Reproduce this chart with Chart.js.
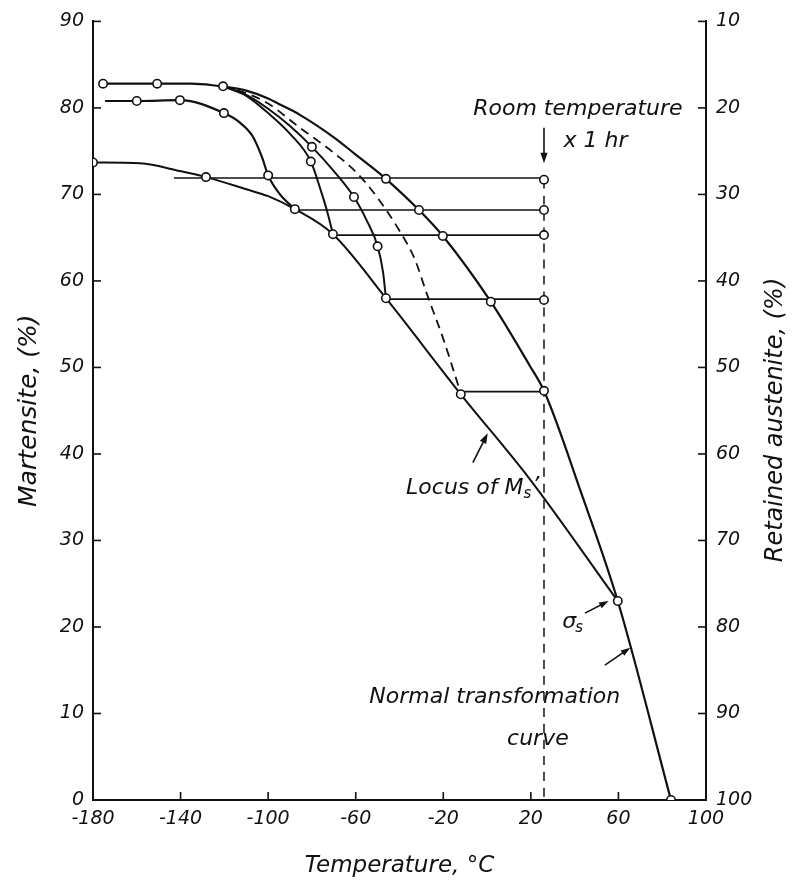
<!DOCTYPE html>
<html><head><meta charset="utf-8">
<script src="https://cdn.jsdelivr.net/npm/chart.js@4.4.1/dist/chart.umd.min.js"></script>
<style>html,body{margin:0;padding:0;background:#fff;}canvas{display:block;}</style>
</head><body>
<canvas id="c" width="798" height="886"></canvas>
<script>
// ---------- data ----------
const xTickValues = [-180, -140, -100, -60, -20, 20, 60, 100];
const yTickValues = [0, 10, 20, 30, 40, 50, 60, 70, 80, 90];
const rightTickValues = [10, 20, 30, 40, 50, 60, 70, 80, 90, 100];

const roomTemp = 26;

const topX = [-175.4, -150.7, -135, -120.6];
const topY = [82.8, 82.8, 82.8, 82.5];

const curve81X = [-174.5, -160, -140.3, -120.2, -112.9, -107, -102.8, -100, -94.6, -87.8];
const curve81Y = [80.8, 80.8, 80.9, 79.4, 78.3, 76.7, 74.3, 72.2, 70.0, 68.3];

const curveAX = [-120.6, -110, -100, -90, -80.5, -76, -73, -70.4];
const curveAY = [82.5, 81.4, 79.4, 77.0, 73.8, 70.5, 68.0, 65.4];

const curveBX = [-120.6, -110, -100, -90, -80, -70, -60.8, -55, -50, -47.5, -46.2];
const curveBY = [82.5, 81.5, 79.9, 77.9, 75.5, 72.7, 69.7, 67.0, 64.0, 61.0, 58.0];

const dashedX = [-120.6, -110, -100, -85.5, -70, -59.5, -50, -40, -33, -27.5, -20, -12];
const dashedY = [82.5, 81.7, 80.5, 77.7, 74.8, 72.5, 69.6, 65.8, 62.5, 58.5, 53.3, 47.0];

const normalX = [-120.6, -110, -100, -94.6, -85.5, -70, -60, -49, -46.2, -31.1, -20.2, 1.7, 19.5, 26, 43, 59.7, 84];
const normalY = [82.5, 82.0, 81.1, 80.4, 79.2, 76.6, 74.6, 72.4, 71.8, 68.2, 65.2, 57.6, 50.2, 47.3, 35.5, 23.0, 0];

const locusX = [-180, -158.5, -140.3, -128.4, -110, -100, -87.8, -70.4, -46.2, -12, 19.5, 59.7];
const locusY = [73.7, 73.6, 72.7, 72.0, 70.6, 69.8, 68.3, 65.4, 58.0, 46.9, 37.1, 23.0];

const isoStartX = [-143, -87.8, -70.4, -46.2, -12];
const isoY = [71.9, 68.2, 65.3, 57.9, 47.2];

const markerX = [-175.4, -150.7, -120.6, -160, -140.3, -120.2, -180, -128.4, -87.8, -70.4, -46.2, -12,
                 -100, -80.5, -80, -60.8, -50, -46.2, -31.1, -20.2, 1.7, 59.7, 84,
                 26, 26, 26, 26, 26];
const markerY = [82.8, 82.8, 82.5, 80.8, 80.9, 79.4, 73.7, 72.0, 68.3, 65.4, 58.0, 46.9,
                 72.2, 73.8, 75.5, 69.7, 64.0, 71.8, 68.2, 65.2, 57.6, 23.0, 0,
                 71.7, 68.2, 65.3, 57.8, 47.3];

// ---------- helpers ----------
const pts = (xs, ys) => xs.map((x, i) => ({x: x, y: ys[i]}));
const INK = '#111';
const FONT = "'DejaVu Sans', sans-serif";

function curve(xs, ys, w, dash) {
  return {type: 'scatter', data: pts(xs, ys), showLine: true, borderColor: INK, borderWidth: w,
          borderDash: dash || [], pointRadius: 0, pointHoverRadius: 0, tension: 0.4,
          cubicInterpolationMode: 'monotone', fill: false};
}

const datasets = [];
datasets.push({type: 'scatter', data: pts(markerX, markerY), showLine: false, pointRadius: 4.2,
  pointBackgroundColor: '#fff', pointBorderColor: INK, pointBorderWidth: 1.6, pointHoverRadius: 4.2});
datasets.push(curve(topX, topY, 2.2));
datasets.push(curve(curve81X, curve81Y, 2.2));
datasets.push(curve(curveAX, curveAY, 2.0));
datasets.push(curve(curveBX, curveBY, 2.0));
datasets.push(curve(dashedX, dashedY, 1.8, [9, 6]));
datasets.push(curve(normalX, normalY, 2.2));
datasets.push(curve(locusX, locusY, 2.0));
isoStartX.forEach((x0, i) => {
  datasets.push(curve([x0, roomTemp], [isoY[i], isoY[i]], 1.7));
});
datasets.push(curve([roomTemp, roomTemp], [71.7, 0], 1.5, [9, 7]));

// ---------- annotation plugin ----------
function arrow(ctx, x1, y1, x2, y2, head) {
  const a = Math.atan2(y2 - y1, x2 - x1);
  ctx.beginPath(); ctx.moveTo(x1, y1); ctx.lineTo(x2 - Math.cos(a) * head * 0.6, y2 - Math.sin(a) * head * 0.6); ctx.stroke();
  ctx.beginPath();
  ctx.moveTo(x2, y2);
  ctx.lineTo(x2 - head * Math.cos(a - 0.33), y2 - head * Math.sin(a - 0.33));
  ctx.lineTo(x2 - head * Math.cos(a + 0.33), y2 - head * Math.sin(a + 0.33));
  ctx.closePath(); ctx.fill();
}

const deco = {
  id: 'deco',
  beforeDraw(chart) {
    const ctx = chart.ctx;
    ctx.save(); ctx.fillStyle = '#fff'; ctx.fillRect(0, 0, chart.width, chart.height); ctx.restore();
  },
  afterDraw(chart) {
    const ctx = chart.ctx, xs = chart.scales.x, ys = chart.scales.y, y2 = chart.scales.y2;
    const X = v => xs.getPixelForValue(v), Y = v => ys.getPixelForValue(v);
    ctx.save();
    ctx.strokeStyle = INK; ctx.fillStyle = INK; ctx.lineWidth = 1.6;
    // inward ticks
    xTickValues.forEach(v => { if (v > -180 && v < 100) { ctx.beginPath(); ctx.moveTo(X(v), ys.bottom); ctx.lineTo(X(v), ys.bottom - 8); ctx.stroke(); } });
    yTickValues.forEach(v => { if (v > 0) { ctx.beginPath(); ctx.moveTo(xs.left, Y(v)); ctx.lineTo(xs.left + 8, Y(v)); ctx.stroke(); } });
    rightTickValues.forEach(v => { if (v < 100) { const p = y2.getPixelForValue(v); ctx.beginPath(); ctx.moveTo(xs.right, p); ctx.lineTo(xs.right - 8, p); ctx.stroke(); } });

    // arrows
    ctx.lineWidth = 1.6;
    arrow(ctx, X(roomTemp), Y(77.7), X(roomTemp), Y(73.6), 11);
    arrow(ctx, X(-6.5), Y(39.0), X(0.3), Y(42.4), 11);
    arrow(ctx, X(44.7), Y(21.6), X(55.5), Y(23.0), 10);
    arrow(ctx, X(53.8), Y(15.6), X(65.4), Y(17.6), 10);

    // texts
    ctx.textAlign = 'center'; ctx.textBaseline = 'middle';
    ctx.font = "italic 22px " + FONT;
    ctx.fillText('Room temperature', X(41.5), Y(79.8));
    ctx.fillText('x 1 hr', X(49.5), Y(76.1));
    ctx.fillText('Normal transformation', X(3.5), Y(11.9));
    ctx.fillText('curve', X(23.2), Y(7.0));
    // Locus of Ms'
    ctx.textAlign = 'left';
    const lx = X(-37), ly = Y(36.0);
    ctx.fillText('Locus of M', lx, ly);
    const w1 = ctx.measureText('Locus of M').width;
    ctx.font = "italic 15px " + FONT;
    ctx.fillText('s', lx + w1, ly + 6);
    const w2 = ctx.measureText('s').width;
    ctx.font = "italic 22px " + FONT;
    ctx.fillText('\u2019', lx + w1 + w2 + 1, ly - 2);
    // sigma s
    ctx.font = "italic 22px " + FONT;
    ctx.fillText('\u03c3', X(34.3), Y(20.6));
    ctx.font = "italic 15px " + FONT;
    ctx.fillText('s', X(34.3) + 13, Y(20.6) + 6);
    // right axis title
    ctx.font = "italic 24px " + FONT;
    ctx.textAlign = 'center';
    ctx.translate(776, 420); ctx.rotate(-Math.PI / 2);
    ctx.fillText('Retained austenite, (%)', 0, 0);
    ctx.restore();
  }
};

const tickFont = {family: FONT, size: 19, style: 'italic'};

new Chart(document.getElementById('c'), {
  type: 'scatter',
  data: {datasets: datasets},
  options: {
    responsive: false, animation: false, devicePixelRatio: 1,
    layout: {padding: {top: 16, left: 0, right: 0, bottom: 0}},
    plugins: {legend: {display: false}, tooltip: {enabled: false}},
    scales: {
      x: {type: 'linear', min: -180, max: 100,
          afterBuildTicks: s => { s.ticks = xTickValues.map(v => ({value: v})); },
          afterFit: s => { s.height = 86; },
          grid: {display: false, drawTicks: false},
          border: {display: true, color: INK, width: 2},
          ticks: {color: INK, font: tickFont, padding: 8, maxRotation: 0, autoSkip: false},
          title: {display: true, text: 'Temperature, \u00b0C', color: INK, font: {family: FONT, size: 23, style: 'italic'}, padding: {top: 0, bottom: 6}}},
      y: {type: 'linear', position: 'left', min: 0, max: 90,
          afterBuildTicks: s => { s.ticks = yTickValues.map(v => ({value: v})); },
          afterFit: s => { s.width = 93; },
          grid: {display: false, drawTicks: false},
          border: {display: true, color: INK, width: 2},
          ticks: {color: INK, font: tickFont, padding: 9, autoSkip: false},
          title: {display: true, text: 'Martensite, (%)', color: INK, font: {family: FONT, size: 25, style: 'italic'}, padding: {top: 14, bottom: 0}}},
      y2: {type: 'linear', position: 'right', min: 10, max: 100, reverse: true,
          afterBuildTicks: s => { s.ticks = rightTickValues.map(v => ({value: v})); },
          afterFit: s => { s.width = 92; },
          grid: {display: false, drawTicks: false},
          border: {display: true, color: INK, width: 2},
          ticks: {color: INK, font: tickFont, padding: 10, autoSkip: false}}
    }
  },
  plugins: [deco]
});
</script>
</body></html>
